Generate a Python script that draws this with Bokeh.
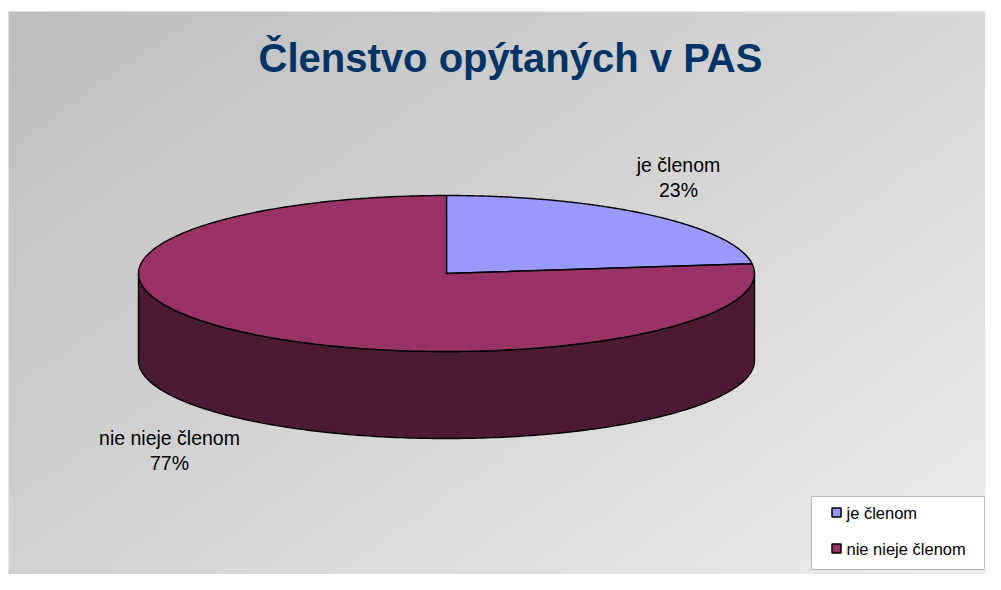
import numpy as np
from bokeh.plotting import figure
from bokeh.models import Range1d
from bokeh.core.properties import value
from bokeh.embed import file_html
from bokeh.resources import INLINE

# ---- data ----
title_text = "Členstvo opýtaných v PAS"
categories = ["je členom", "nie nieje členom"]
percents = [23, 77]
colors = ["#9999FF", "#993366"]
side_colors = ["#3A3A80", "#4D1A33"]

# ---- layout (pixel coordinates, origin top-left of the plot) ----
W, H = 985, 574

def sy(y):  # screen y -> data y
    return H - y

p = figure(width=W, height=H, output_backend="svg", toolbar_location=None,
           x_range=Range1d(0, W), y_range=Range1d(0, H), min_border=0)
p.axis.visible = False
p.grid.visible = False
p.outline_line_color = None
p.background_fill_color = "white"
p.border_fill_color = "white"

# background gradient (chart area starts at 8, 11)
BX0, BY0 = 8, 11
bw, bh = W - BX0, H - BY0
nx, ny = 200, 120
gx = np.linspace(0, 1, nx)[None, :]
gy = np.linspace(1, 0, ny)[:, None]  # row 0 = bottom
g = 190 + 46 * (0.55 * gx + 0.45 * gy)
img = np.zeros((ny, nx), dtype=np.uint32)
view = img.view(dtype=np.uint8).reshape((ny, nx, 4))
view[:, :, 0] = g.astype(np.uint8)
view[:, :, 1] = g.astype(np.uint8)
view[:, :, 2] = g.astype(np.uint8)
view[:, :, 3] = 255
p.image_rgba(image=[img], x=BX0, y=0, dw=bw, dh=bh)

# ---- 3D pie geometry ----
cx, cy = 446, 273
a, b = 308, 78
depth = 87

def pt(theta_deg, dy=0.0):
    t = np.radians(theta_deg)
    return cx + a * np.cos(t), cy - b * np.sin(t) + dy

total = float(sum(percents))
start = 90.0
slices = []
for val in percents:
    end = start - 360.0 * val / total
    slices.append((start, end))
    start = end

# sides (visible front half: angles between -180 and 0, mod 360)
side_xs, side_ys, side_fc = [], [], []
for (s, e), sc in zip(slices, side_colors):
    lo, hi = e, s
    for k in range(-2, 2):
        vlo, vhi = -180 + 360 * k, 0 + 360 * k
        l2, h2 = max(lo, vlo), min(hi, vhi)
        if h2 - l2 > 0.01:
            th = np.linspace(l2, h2, 200)
            xt, yt = pt(th)
            xb, yb = pt(th[::-1], depth)
            side_xs.append(list(np.concatenate([xt, xb])))
            side_ys.append(list(sy(np.concatenate([yt, yb]))))
            side_fc.append(sc)
p.patches(side_xs, side_ys, fill_color=side_fc, line_color="black", line_width=1.4)

# top faces
top_xs, top_ys = [], []
for (s, e) in slices:
    th = np.linspace(s, e, 300)
    xs, ys = pt(th)
    top_xs.append([cx] + list(xs))
    top_ys.append([sy(cy)] + list(sy(ys)))
p.patches(top_xs, top_ys, fill_color=colors, line_color="black", line_width=1.4)

# ---- title ----
p.text(x=[510], y=[sy(57)], text=[title_text], text_align="center", text_baseline="middle",
       text_font=value("Liberation Sans"), text_font_style="bold", text_font_size="40px",
       text_color="#003366")

# ---- data labels ----
lab_x = [678, 169]
lab_y = [164, 437]
lines1 = categories
lines2 = [f"{v}%" for v in percents]
p.text(x=lab_x, y=[sy(v) for v in lab_y], text=lines1, text_align="center", text_baseline="middle",
       text_font=value("Liberation Sans"), text_font_size="19.5px", text_color="black")
p.text(x=lab_x, y=[sy(v + 25) for v in lab_y], text=lines2, text_align="center", text_baseline="middle",
       text_font=value("Liberation Sans"), text_font_size="19.5px", text_color="black")

# ---- legend ----
p.quad(left=[811], right=[984], bottom=[sy(569)], top=[sy(496)], fill_color="white",
       line_color="#b8b8b8", line_width=1)
leg_y = [512, 548]
p.rect(x=[836, 836], y=[sy(v) for v in leg_y], width=9, height=9, fill_color=colors,
       line_color="black", line_width=1.5)
p.text(x=[846, 846], y=[sy(v) for v in leg_y], text=categories, text_align="left",
       text_baseline="middle", text_font=value("Liberation Sans"), text_font_size="16.5px",
       text_color="black")

open("out.html", "w").write(file_html(p, INLINE))
